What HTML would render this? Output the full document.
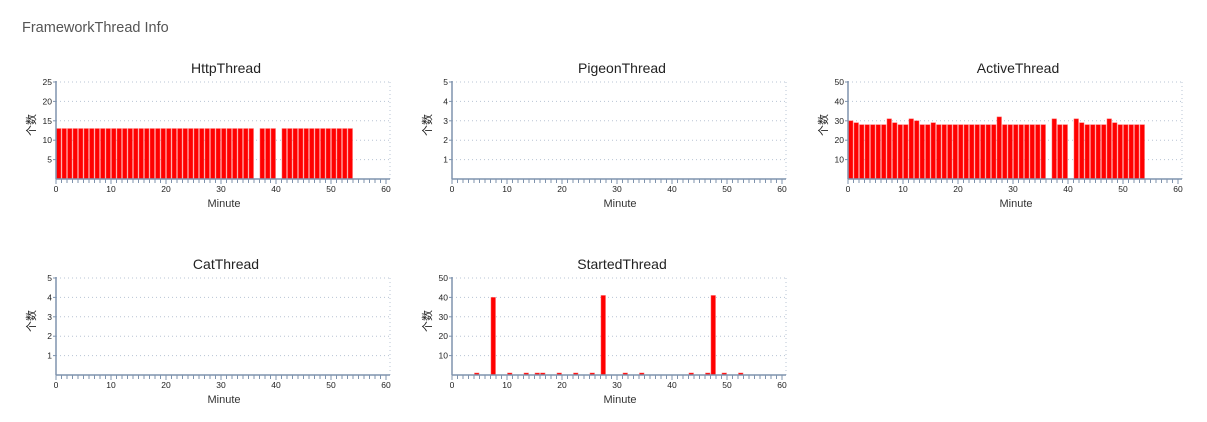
<!DOCTYPE html>
<html><head><meta charset="utf-8">
<style>
body{margin:0;background:#fff;width:1207px;height:422px;overflow:hidden;font-family:"Liberation Sans","Noto Sans CJK SC",sans-serif;}
#hdr{position:absolute;left:22px;top:20px;font-size:14.5px;color:#555;}
svg{position:absolute;left:0;top:0;}
</style></head>
<body>
<div id="hdr">FrameworkThread Info</div>
<svg id="s" width="1207" height="422"></svg>
<script>
const titles=["HttpThread","PigeonThread","ActiveThread","CatThread","StartedThread"];
const yMaxes=[25,5,50,5,50];
const yStepsArr=[5,1,10,1,10];
const xTicks=[0,10,20,30,40,50,60];
// minute -> value
const httpMinutes=[0,1,2,3,4,5,6,7,8,9,10,11,12,13,14,15,16,17,18,19,20,21,22,23,24,25,26,27,28,29,30,31,32,33,34,35,37,38,39,41,42,43,44,45,46,47,48,49,50,51,52,53];
const httpValues=[13,13,13,13,13,13,13,13,13,13,13,13,13,13,13,13,13,13,13,13,13,13,13,13,13,13,13,13,13,13,13,13,13,13,13,13,13,13,13,13,13,13,13,13,13,13,13,13,13,13,13,13];
const pigeonMinutes=[];
const pigeonValues=[];
const activeMinutes=[0,1,2,3,4,5,6,7,8,9,10,11,12,13,14,15,16,17,18,19,20,21,22,23,24,25,26,27,28,29,30,31,32,33,34,35,37,38,39,41,42,43,44,45,46,47,48,49,50,51,52,53];
const activeValues=[30,29,28,28,28,28,28,31,29,28,28,31,30,28,28,29,28,28,28,28,28,28,28,28,28,28,28,32,28,28,28,28,28,28,28,28,31,28,28,31,29,28,28,28,28,31,29,28,28,28,28,28];
const catMinutes=[];
const catValues=[];
const startedMinutes=[4,7,10,13,15,16,19,22,25,27,31,34,43,46,47,49,52];
const startedValues=[1,40,1,1,1,1,1,1,1,41,1,1,1,1,41,1,1];
const minutesArr=[httpMinutes,pigeonMinutes,activeMinutes,catMinutes,startedMinutes];
const valuesArr=[httpValues,pigeonValues,activeValues,catValues,startedValues];

const NS="http://www.w3.org/2000/svg";
const svg=document.getElementById('s');
function mk(tag,attrs,parent,text){const e=document.createElementNS(NS,tag);for(const k in attrs)e.setAttribute(k,attrs[k]);if(text!==undefined)e.textContent=text;parent.appendChild(e);return e;}
const origins=[[56,179],[452,179],[848,179],[56,375],[452,375]];
const PW=330, PH=97;
titles.forEach((t,ci)=>{
  const [ox,oy]=origins[ci];
  const ymax=yMaxes[ci], ystep=yStepsArr[ci];
  const g=mk('g',{},svg);
  
  
  const xs=m=>ox+m*PW/60;
  const ys=v=>oy-v*PH/ymax;
  const title=mk('text',{x:ox+170,y:oy-106,'text-anchor':'middle','font-size':14,fill:'#222'},g,t);
  
  
  for(let v=ystep;v<=ymax;v+=ystep){
    const gl=mk('line',{x1:ox,x2:ox+PW+4,y1:ys(v),y2:ys(v),stroke:'#b8c4d4','stroke-dasharray':'1,3'},g);
    
    
    const tl=mk('text',{x:ox-4,y:ys(v)+3,'text-anchor':'end','font-size':8.5,fill:'#222'},g,String(v));
    
    
    mk('line',{x1:ox-3,x2:ox,y1:ys(v),y2:ys(v),stroke:'#7f93ad'},g);
  }
  mk('line',{x1:ox+PW+4,x2:ox+PW+4,y1:ys(ymax),y2:oy,stroke:'#b8c4d4','stroke-dasharray':'1,3'},g);
  const mins=minutesArr[ci], vals=valuesArr[ci];
  mins.forEach((m,i)=>{
    const v=vals[i];
    const h=Math.max(oy-ys(v),2);
    const b=mk('rect',{x:xs(m)+0.5,y:oy-h,width:PW/60-1,height:h,fill:'#ff0000',stroke:'#ff6060','stroke-width':0.5},g);
    
    
  });
  const ya=mk('line',{x1:ox,x2:ox,y1:ys(ymax)-1,y2:oy,stroke:'#7f93ad','stroke-width':1.5},g);
  
  
  const xa=mk('line',{x1:ox,x2:ox+PW+4,y1:oy,y2:oy,stroke:'#7f93ad','stroke-width':1.5},g);
  
  
  for(let m=0;m<=60;m++){
    mk('line',{x1:xs(m),x2:xs(m),y1:oy,y2:oy+(m%10===0?5:4),stroke:'#7f93ad'},g);
  }
  xTicks.forEach(m=>{
    const xl=mk('text',{x:xs(m),y:oy+13,'text-anchor':'middle','font-size':8.5,fill:'#222'},g,String(m));
    
    
  });
  const xt=mk('text',{x:ox+168,y:oy+28,'text-anchor':'middle','font-size':11,fill:'#333'},g,'Minute');
  
  
  const yt=mk('text',{x:0,y:0,'text-anchor':'middle','font-size':11,fill:'#222',transform:`translate(${ox-21},${oy-54}) rotate(-90)`},g,'个数');
  
  
});
</script>
</body></html>
